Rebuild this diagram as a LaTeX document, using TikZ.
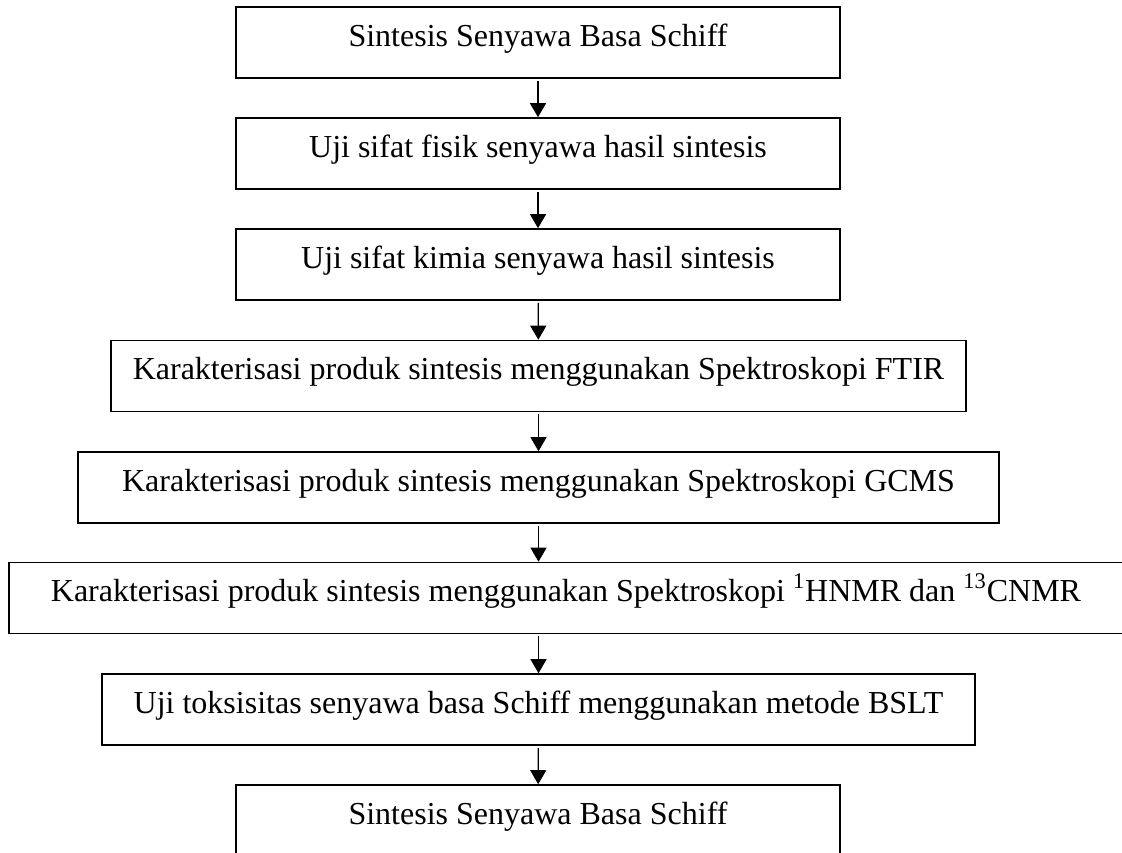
\documentclass[tikz,border=0pt]{standalone}
\usepackage{fontspec}
\setmainfont{Liberation Serif}
\usetikzlibrary{positioning,arrows.meta}

\begin{document}
\begin{tikzpicture}[x=0.5pt,y=-0.5pt,
  stepbox/.style={draw,line width=0.8pt,inner xsep=0pt,inner ysep=0pt,
    text height=19.5pt,text depth=16pt,font=\fontsize{16}{19}\selectfont},
  flow/.style={line width=0.6pt,shorten <=1pt,-{Triangle[length=7pt,width=8pt]}}]
\useasboundingbox (0,0) rectangle (1122,852);
\clip (0,0) rectangle (1122,852);

\node[stepbox,minimum width=302pt] (sintesis) at (538,42.5) {Sintesis Senyawa Basa Schiff};
\node[stepbox,minimum width=302pt] (fisik) at (538,153.5) {Uji sifat fisik senyawa hasil sintesis};
\node[stepbox,minimum width=302pt] (kimia) at (538,264.5) {Uji sifat kimia senyawa hasil sintesis};
\node[stepbox,minimum width=427.5pt] (ftir) at (538.5,376) {Karakterisasi produk sintesis menggunakan Spektroskopi FTIR};
\node[stepbox,minimum width=460.5pt] (gcms) at (538.5,487.5) {Karakterisasi produk sintesis menggunakan Spektroskopi GCMS};
\node[stepbox,minimum width=557pt] (nmr) at (566,598) {Karakterisasi produk sintesis menggunakan Spektroskopi \textsuperscript{1}HNMR dan \textsuperscript{13}CNMR};
\node[stepbox,minimum width=436.5pt] (bslt) at (538.5,709.5) {Uji toksisitas senyawa basa Schiff menggunakan metode BSLT};
\node[stepbox,minimum width=302pt] (akhir) at (538,820.5) {Sintesis Senyawa Basa Schiff};

\draw[flow] (sintesis) -- (fisik);
\draw[flow] (fisik) -- (kimia);
\draw[flow] (kimia) -- (ftir);
\draw[flow] (ftir) -- (gcms);
\draw[flow] (gcms.south) -- (gcms.south |- nmr.north);
\draw[flow] (nmr.south -| bslt.north) -- (bslt.north);
\draw[flow] (bslt) -- (akhir);
\end{tikzpicture}
\end{document}
